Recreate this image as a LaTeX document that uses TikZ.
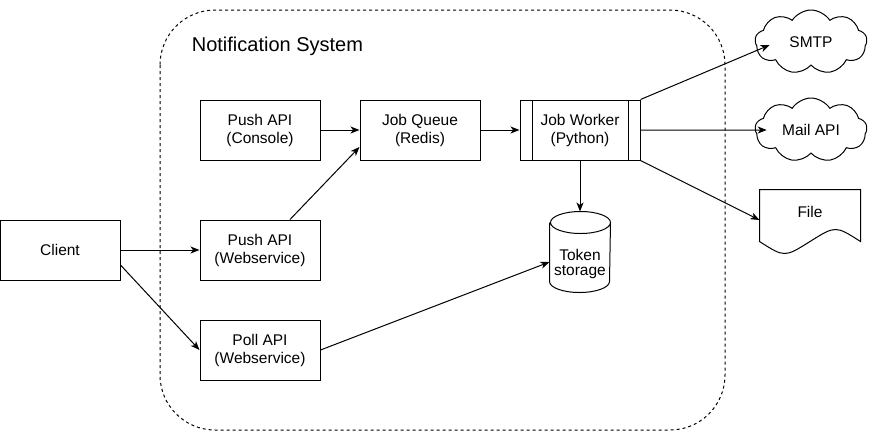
\documentclass[tikz,border=0pt]{standalone}
\usepackage{fontspec}
\setmainfont{Liberation Sans}
\usetikzlibrary{arrows.meta,shapes.symbols}
\tikzset{
  box/.style={draw, minimum width=120pt, minimum height=60pt, align=center, inner sep=0pt, font=\fontsize{15.5}{18}\selectfont},
  process/.style={box, path picture={
      \draw ([xshift=12pt]path picture bounding box.north west) -- ([xshift=12pt]path picture bounding box.south west);
      \draw ([xshift=-12pt]path picture bounding box.north east) -- ([xshift=-12pt]path picture bounding box.south east);}},
  puffs/.style={draw, cloud, cloud puffs=9, cloud puff arc=115, cloud ignores aspect, minimum width=112pt, minimum height=64pt, inner sep=0pt, font=\fontsize{15.5}{18}\selectfont},
  arr/.style={-{Stealth[length=9pt,width=7pt,inset=2.5pt]}}
}
\begin{document}
\begin{tikzpicture}[x=1pt, y=-1pt, line width=1pt]
\useasboundingbox (0,0) rectangle (871,432); % page
\draw[dash pattern=on 3pt off 3pt, rounded corners=55pt] (160,10) rectangle (725,430); % system border
\node[anchor=west, font=\fontsize{20}{24}\selectfont] (title) at (188,46) {Notification System};

\node[box] (client) at (60,250) {Client};
\node[box] (pcon) at (260,130) {Push API\\(Console)};
\node[box] (pws) at (260,250) {Push API\\(Webservice)};
\node[box] (poll) at (260,350) {Poll API\\(Webservice)};
\node[box] (jq) at (420,130) {Job Queue\\(Redis)};
\node[process] (jw) at (580,130) {Job Worker\\(Python)};

\node[minimum width=60pt, minimum height=80pt, inner sep=0pt] (tok) at (580,252) {}; % token storage
\draw ([yshift=-11pt]tok.north west) -- ([yshift=11pt]tok.south west)
  arc[start angle=180, end angle=360, x radius=30pt, y radius=11pt] -- ([yshift=-11pt]tok.north east)
  arc[start angle=0, end angle=360, x radius=30pt, y radius=11pt]; % cylinder
\node[align=center, inner sep=0pt, font=\fontsize{15.5}{15}\selectfont] (toktext) at ([yshift=-12pt]tok.center) {Token\\storage};

\node[puffs] (smtp) at (811,42) {SMTP};
\node[puffs] (mail) at (811,130) {Mail API};
\node[minimum width=100pt, minimum height=60pt, inner sep=0pt, font=\fontsize{15.5}{18}\selectfont] (file) at (810,220) {\raisebox{16pt}{File}};
\draw (file.north west) -- (file.north east) -- ([yshift=9pt]file.south east)
  .. controls ([xshift=-25pt,yshift=25pt]file.south east) .. ([yshift=9pt]file.south)
  .. controls ([xshift=25pt,yshift=-7pt]file.south west) .. ([yshift=9pt]file.south west) -- cycle; % document shape

\draw[arr] (client.east) -- (pws.west);
\draw[arr] ([yshift=-15pt]client.east) -- (poll.west);
\draw[arr] (pcon.east) -- (jq.west);
\draw[arr] ([xshift=30pt]pws.north) -- ([yshift=-17pt]jq.west);
\draw[arr] (jq.east) -- (jw.west);
\draw[arr] (jw.south) -- (tok.north);
\draw[arr] (poll.east) -- ([yshift=-10pt]tok.west);
\draw[arr] (jw.north east) -- ([xshift=15pt,yshift=-3pt]smtp.west);
\draw[arr] (jw.east) -- ([xshift=12pt]mail.west);
\draw[arr] (jw.south east) -- (file.west);
\end{tikzpicture}
\end{document}
